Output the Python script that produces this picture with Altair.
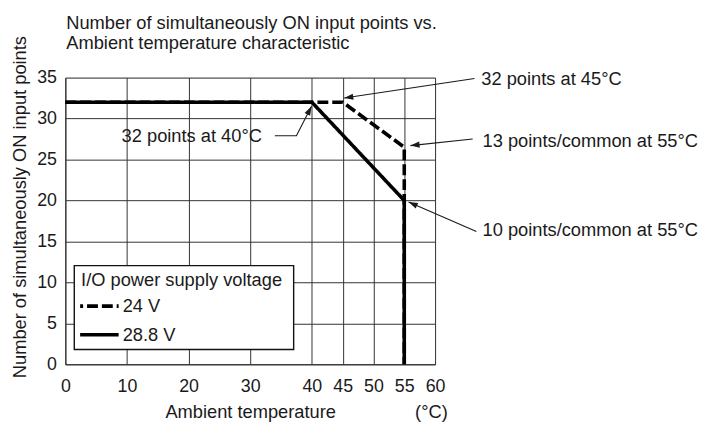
import math
import altair as alt
import pandas as pd

FONT = "Liberation Sans, Arial, Helvetica, sans-serif"
INK = "#1a1a1a"

# ---- data -------------------------------------------------------------
series = ["24 V", "28.8 V"]
temp_24 = [0, 45, 55, 55, 55]
pts_24 = [32, 32, 26.5, 20, 0]
temp_288 = [0, 40, 55, 55]
pts_288 = [32, 32, 20, 0]

x_ticks = [0, 10, 20, 30, 40, 45, 50, 55, 60]
y_ticks = [0, 5, 10, 15, 20, 25, 30, 35]

title_lines = ["Number of simultaneously ON input points vs.",
               "Ambient temperature characteristic"]
title_x = [0.15, 0.15]
title_y = [40.95, 38.55]
x_title = "Ambient temperature"
x_unit = "(°C)"
y_title = "Number of simultaneously ON input points"

ann_labels = ["32 points at 40°C", "32 points at 45°C",
              "13 points/common at 55°C", "10 points/common at 55°C"]
ann_text_x = [31.9, 67.5, 67.7, 67.7]
ann_text_y = [27.9, 34.8, 27.3, 16.4]
ann_align = ["right", "left", "left", "left"]

lead_id = [0, 0, 0, 1, 1, 2, 2, 3, 3]
lead_x = [34.0, 37.5, 39.95, 66.4, 45.25, 66.1, 56.0, 66.7, 55.7]
lead_y = [27.9, 27.9, 31.5, 34.9, 32.5, 27.5, 26.7, 16.2, 19.8]

legend_title = "I/O power supply voltage"
legend_box_x = [1.45, 37.05]
legend_box_y = [1.8, 12.05]
legend_title_pos = [2.55, 10.3]
legend_sample_x = [2.4, 8.65]
legend_row_y = [7.1, 3.6]
legend_label_x = 9.3

# ---- layout ---------------------------------------------------------------
W, H = 374, 290
XD, YD = [0, 60], [0, 35]
sx, sy = W / (XD[1] - XD[0]), H / (YD[1] - YD[0])

xs = alt.Scale(domain=XD, nice=False, zero=False)
ys = alt.Scale(domain=YD, nice=False, zero=False)
dash_scale = alt.Scale(domain=series, range=[[11, 4], [1, 0]])

rows = []
for s, tx, py in [(series[0], temp_24, pts_24), (series[1], temp_288, pts_288)]:
    for i, (a, b) in enumerate(zip(tx, py)):
        rows.append({"series": s, "temp": a, "pts": b, "k": i})
df_lines = pd.DataFrame(rows)

x_axis = alt.Axis(values=x_ticks, grid=True, gridColor="#333333", gridWidth=1,
                  ticks=False, tickSize=0, domainColor="#333333", labelFlush=False,
                  labelFontSize=18, labelFont=FONT, labelColor=INK, labelPadding=14,
                  title=x_title, titleFont=FONT, titleFontSize=18.5,
                  titleFontWeight="normal", titleColor=INK,
                  titleBaseline="alphabetic", titleY=54)
y_axis = alt.Axis(values=y_ticks, grid=True, gridColor="#333333", gridWidth=1,
                  ticks=False, tickSize=0, domainColor="#333333", labelFlush=False,
                  labelFontSize=18, labelFont=FONT, labelColor=INK, labelPadding=9,
                  title=y_title, titleFont=FONT, titleFontSize=18.5,
                  titleFontWeight="normal", titleColor=INK,
                  titleBaseline="alphabetic", titleX=-40.5, titleY=130.5, titleAngle=270)

lines = alt.Chart(df_lines).mark_line(color="black", strokeWidth=3.6, clip=False).encode(
    x=alt.X("temp:Q", scale=xs, axis=x_axis),
    y=alt.Y("pts:Q", scale=ys, axis=y_axis),
    strokeDash=alt.StrokeDash("series:N", scale=dash_scale, legend=None),
    order=alt.Order("k:Q"),
)

# chart title (two lines, above the plot)
title = alt.Chart(pd.DataFrame({"t": title_lines, "x": title_x, "y": title_y})).mark_text(
    align="left", baseline="alphabetic", font=FONT, fontSize=18.5, color=INK, clip=False
).encode(x=alt.X("x:Q", scale=xs), y=alt.Y("y:Q", scale=ys), text="t:N")

# annotations
df_ann = pd.DataFrame({"label": ann_labels, "x": ann_text_x, "y": ann_text_y, "align": ann_align})
ann_layers = []
for al in ["right", "left"]:
    ann_layers.append(
        alt.Chart(df_ann[df_ann["align"] == al]).mark_text(
            align=al, baseline="middle", font=FONT, fontSize=18.5, color=INK, clip=False
        ).encode(x=alt.X("x:Q", scale=xs), y=alt.Y("y:Q", scale=ys), text="label:N")
    )

df_lead = pd.DataFrame({"id": lead_id, "x": lead_x, "y": lead_y})
df_lead["k"] = df_lead.groupby("id").cumcount()
leaders = alt.Chart(df_lead).mark_line(color=INK, strokeWidth=1.1, clip=False).encode(
    x=alt.X("x:Q", scale=xs), y=alt.Y("y:Q", scale=ys),
    detail="id:N", order=alt.Order("k:Q"),
)

heads = []
for i in sorted(set(lead_id)):
    sub = df_lead[df_lead["id"] == i]
    (x0, y0), (x1, y1) = sub[["x", "y"]].values[-2], sub[["x", "y"]].values[-1]
    ang = math.degrees(math.atan2(-(y1 - y0) * sy, (x1 - x0) * sx)) % 360
    heads.append({"x": x1, "y": y1, "ang": ang})
df_heads = pd.DataFrame(heads)
arrow = alt.Chart(df_heads).mark_point(
    shape="M0,0L-1,-0.34L-1,0.34Z", filled=True, size=340, color=INK,
    opacity=1, strokeWidth=0, clip=False
).encode(x=alt.X("x:Q", scale=xs), y=alt.Y("y:Q", scale=ys),
         angle=alt.Angle("ang:Q", scale=None))

# unit label, on the x-title baseline
unit = alt.Chart(pd.DataFrame({"x": [59.4], "y": [-6.52], "t": [x_unit]})).mark_text(
    align="center", baseline="alphabetic", font=FONT, fontSize=18.5, color=INK, clip=False
).encode(x=alt.X("x:Q", scale=xs), y=alt.Y("y:Q", scale=ys), text="t:N")

# legend box
box = alt.Chart(pd.DataFrame({"x": [legend_box_x[0]], "x2": [legend_box_x[1]],
                              "y": [legend_box_y[0]], "y2": [legend_box_y[1]]})).mark_rect(
    fill="white", stroke="#111111", strokeWidth=1.4
).encode(x=alt.X("x:Q", scale=xs), x2="x2", y=alt.Y("y:Q", scale=ys), y2="y2")

leg_title = alt.Chart(pd.DataFrame({"x": [legend_title_pos[0]], "y": [legend_title_pos[1]],
                                    "t": [legend_title]})).mark_text(
    align="left", baseline="middle", font=FONT, fontSize=18.5, color=INK
).encode(x=alt.X("x:Q", scale=xs), y=alt.Y("y:Q", scale=ys), text="t:N")

srows = []
for s, yv in zip(series, legend_row_y):
    for j, xv in enumerate(legend_sample_x):
        srows.append({"series": s, "x": xv, "y": yv, "k": j})
samples = alt.Chart(pd.DataFrame(srows)).mark_line(
    color="black", strokeWidth=3.6, strokeDashOffset=8
).encode(
    x=alt.X("x:Q", scale=xs), y=alt.Y("y:Q", scale=ys),
    strokeDash=alt.StrokeDash("series:N", scale=dash_scale, legend=None),
    order=alt.Order("k:Q"),
)
leg_labels = alt.Chart(pd.DataFrame({"series": series, "x": [legend_label_x] * 2,
                                     "y": legend_row_y})).mark_text(
    align="left", baseline="middle", font=FONT, fontSize=18.5, color=INK
).encode(x=alt.X("x:Q", scale=xs), y=alt.Y("y:Q", scale=ys), text="series:N")

chart = alt.layer(
    lines, leaders, arrow, *ann_layers, unit, title, box, leg_title, samples, leg_labels
).properties(
    width=W, height=H,
    autosize=alt.AutoSizeParams(type="none"),
    padding={"left": 58, "top": 68, "right": 270, "bottom": 59},
).configure_view(stroke="#333333", strokeWidth=1).configure(background="white")

chart.save("out.html", embed_options={"renderer": "svg", "actions": False})
